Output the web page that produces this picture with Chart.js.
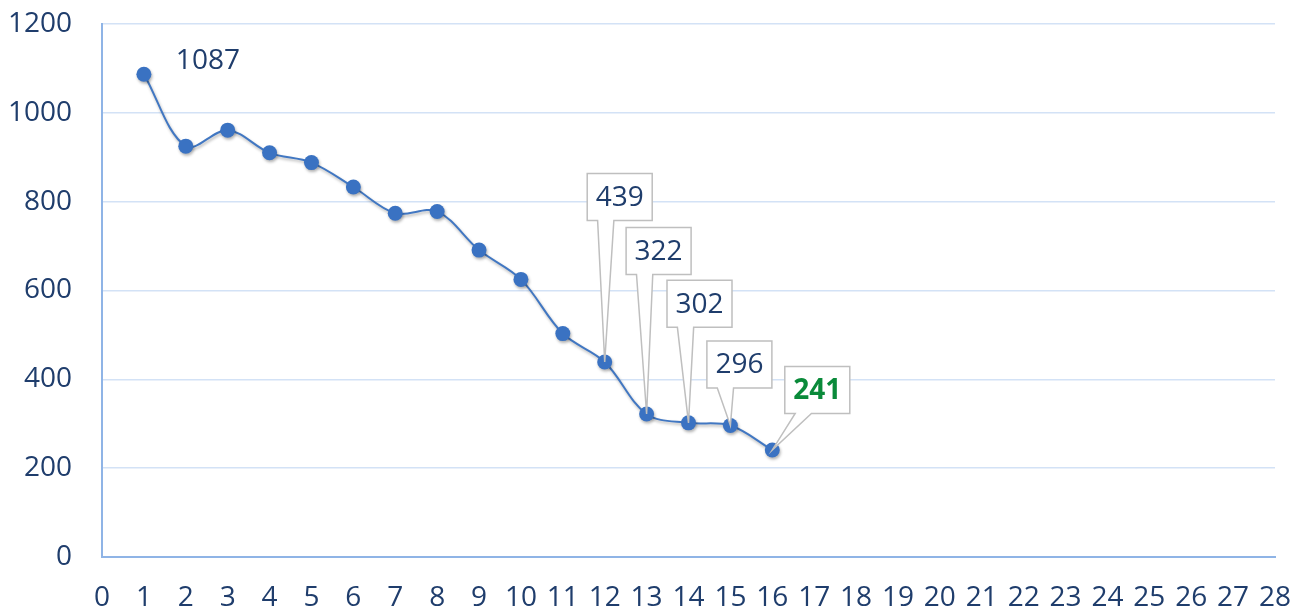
<!DOCTYPE html>
<html>
<head>
<meta charset="utf-8">
<script src="https://cdn.jsdelivr.net/npm/chart.js@4/dist/chart.umd.min.js"></script>
<style>
  html, body { margin: 0; padding: 0; background: #fff; }
  #wrap { width: 1294px; height: 613px; }
</style>
</head>
<body>
<div id="wrap"><canvas id="chart" width="1294" height="613"></canvas></div>
<script>
// Dados
const xValues = [1, 2, 3, 4, 5, 6, 7, 8, 9, 10, 11, 12, 13, 14, 15, 16];
const values = [1087, 925, 961, 910, 888, 833, 774, 778, 691, 625, 503, 439, 322, 302, 296, 241];
const xTicks = { min: 0, max: 28, step: 1 };
const yTicks = { min: 0, max: 1200, step: 200 };

const textColor = '#1f3d6c';
const fontFamily = '"Open Sans", "Noto Sans", sans-serif';

// rótulos: deslocamento do centro do rótulo em relação ao ponto
const callouts = [
  { index: 0, dx: 64, dy: -14, boxed: false },
  { index: 11, dx: 15, dy: -165, boxed: true },
  { index: 12, dx: 12, dy: -163, boxed: true },
  { index: 13, dx: 11, dy: -119, boxed: true },
  { index: 14, dx: 9, dy: -61, boxed: true },
  { index: 15, dx: 45, dy: -60, boxed: true, color: '#0a8a3a', bold: true }
];

// sombra nos pontos/linha
const shadowPlugin = {
  id: 'shadow',
  beforeDatasetsDraw(chart) {
    const ctx = chart.ctx;
    ctx.save();
    ctx.shadowColor = 'rgba(0,0,0,0.3)';
    ctx.shadowBlur = 3;
    ctx.shadowOffsetX = 1;
    ctx.shadowOffsetY = 2;
  },
  afterDatasetsDraw(chart) {
    chart.ctx.restore();
  }
};

const calloutPlugin = {
  id: 'callouts',
  afterDatasetsDraw(chart) {
    const ctx = chart.ctx;
    const meta = chart.getDatasetMeta(0);
    const w = 65, h = 47;
    callouts.forEach(c => {
      const pt = meta.data[c.index];
      const cx = pt.x + c.dx, cy = pt.y + c.dy;
      ctx.save();
      if (c.boxed) {
        const left = cx - w / 2, top = cy - h / 2, bottom = cy + h / 2;
        const b1 = left + w * 0.16, b2 = left + w * 0.41;
        ctx.beginPath();
        ctx.moveTo(left, top);
        ctx.lineTo(left + w, top);
        ctx.lineTo(left + w, bottom);
        ctx.lineTo(b2, bottom);
        ctx.lineTo(pt.x, pt.y);
        ctx.lineTo(b1, bottom);
        ctx.lineTo(left, bottom);
        ctx.closePath();
        ctx.fillStyle = '#ffffff';
        ctx.fill();
        ctx.strokeStyle = '#bfbfbf';
        ctx.lineWidth = 1.5;
        ctx.stroke();
      }
      ctx.fillStyle = c.color || textColor;
      ctx.font = (c.bold ? 'bold ' : '') + '28px ' + fontFamily;
      ctx.textAlign = 'center';
      ctx.textBaseline = 'middle';
      ctx.fillText(String(values[c.index]), cx, cy + 1);
      ctx.restore();
    });
  }
};

const ctx = document.getElementById('chart').getContext('2d');
new Chart(ctx, {
  type: 'line',
  data: {
    datasets: [{
      data: xValues.map((x, i) => ({ x: x, y: values[i] })),
      borderColor: '#4177c2',
      borderWidth: 2,
      tension: 0.35,
      pointRadius: 7.5,
      pointHoverRadius: 7.5,
      pointBackgroundColor: '#3a72c2',
      pointBorderColor: '#3a72c2',
      pointBorderWidth: 0,
      fill: false
    }]
  },
  options: {
    responsive: false,
    animation: false,
    events: [],
    layout: { padding: { top: 24, right: 19, left: 0, bottom: 0 } },
    plugins: { legend: { display: false }, tooltip: { enabled: false } },
    scales: {
      x: {
        type: 'linear',
        min: xTicks.min,
        max: xTicks.max,
        ticks: { stepSize: xTicks.step, color: textColor, font: { family: fontFamily, size: 28 }, padding: 24, maxRotation: 0, autoSkip: false },
        grid: { color: 'rgba(0,0,0,0)', drawTicks: false },
        border: { color: '#8fb4e6', width: 2 },
        afterFit: s => { s.height = 56; s.paddingLeft = 0; s.paddingRight = 0; }
      },
      y: {
        min: yTicks.min,
        max: yTicks.max,
        ticks: { stepSize: yTicks.step, color: textColor, font: { family: fontFamily, size: 28 }, padding: 30, callback: v => String(v) },
        grid: { color: '#d3e2f6', lineWidth: 1.5, drawTicks: false },
        border: { color: '#8fb4e6', width: 2 },
        afterFit: s => { s.width = 102; s.paddingTop = 0; s.paddingBottom = 0; }
      }
    }
  },
  plugins: [shadowPlugin, calloutPlugin]
});
</script>
</body>
</html>
